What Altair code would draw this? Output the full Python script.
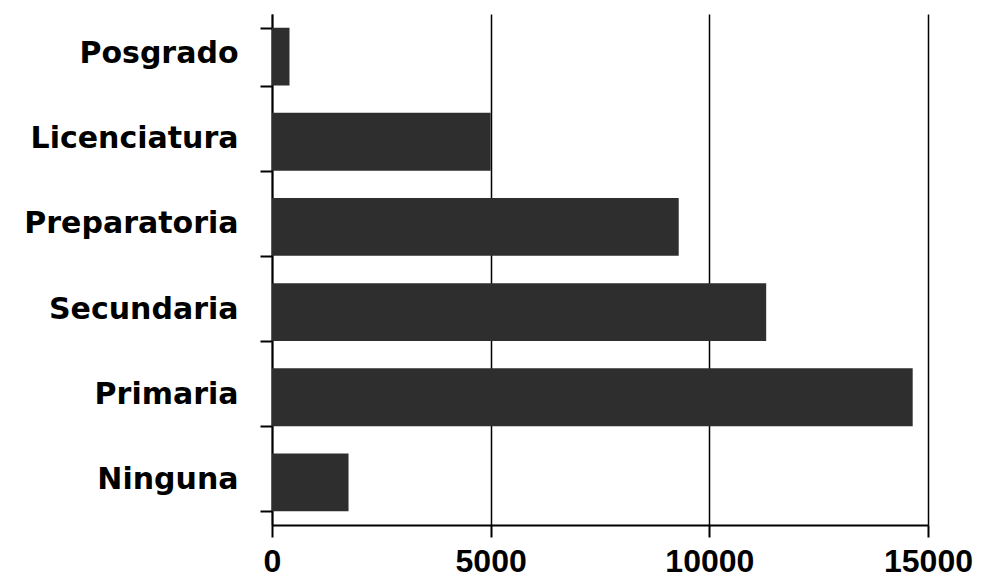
import altair as alt
import pandas as pd

categories = ["Posgrado", "Licenciatura", "Preparatoria", "Secundaria", "Primaria", "Ninguna"]
values = [400, 5000, 9300, 11300, 14650, 1750]
x_ticks = [0, 5000, 10000, 15000]

df = pd.DataFrame({"nivel": categories, "personas": values})

chart = alt.Chart(df).mark_bar(color="#2e2e2e").encode(
    x=alt.X(
        "personas:Q",
        scale=alt.Scale(domain=[0, 15000], nice=False),
        axis=alt.Axis(
            values=x_ticks, title=None, format="d",
            grid=True, gridColor="black", gridWidth=1.5, gridOpacity=1,
            domainColor="black", domainWidth=2,
            tickColor="black", tickWidth=2, tickSize=12,
            labelFont="Liberation Sans", labelFontWeight="bold", labelFontSize=32,
            labelColor="black", labelPadding=9, labelFlush=False,
        ),
    ),
    y=alt.Y(
        "nivel:N", sort=categories,
        scale=alt.Scale(paddingInner=0.32, paddingOuter=0.16),
        axis=alt.Axis(
            title=None, tickBand="extent", grid=False,
            domainColor="black", domainWidth=2,
            tickColor="black", tickWidth=2, tickSize=12,
            labelFont="DejaVu Sans", labelFontWeight="bold", labelFontSize=30,
            labelColor="black", labelPadding=22, labelOffset=-3, labelLimit=400,
        ),
    ),
).properties(
    width=656, height=511,
    padding={"left": 264, "top": 6, "right": 50, "bottom": 55},
    autosize=alt.AutoSizeParams(type="none"),
).configure_view(stroke=None)

chart.save("out.html", embed_options={"renderer": "svg", "actions": False})
